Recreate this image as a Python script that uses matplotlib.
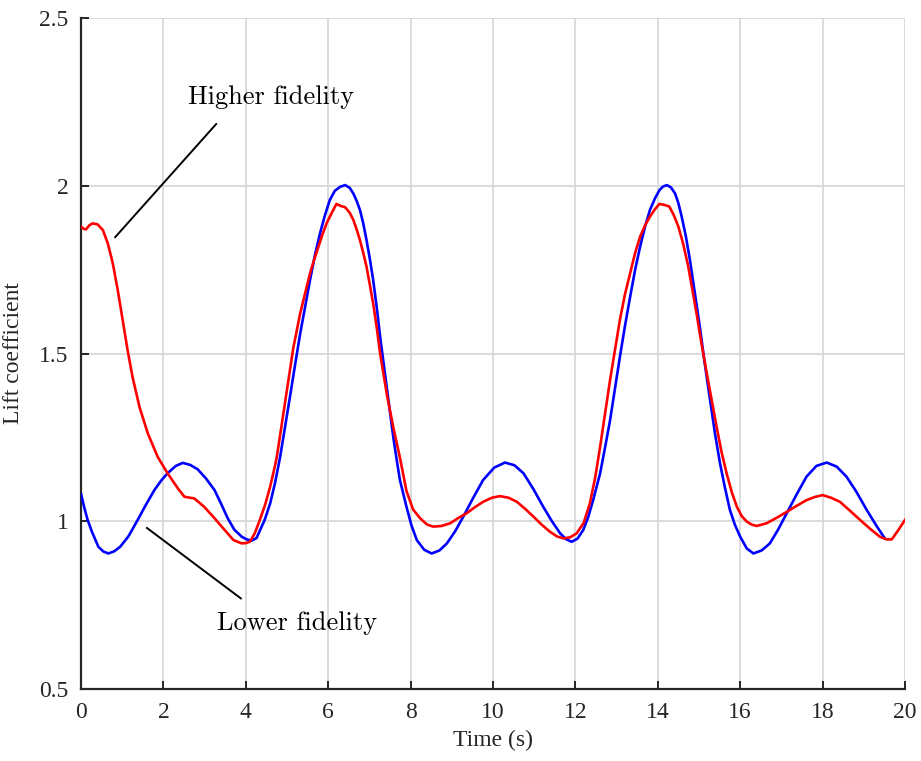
import matplotlib
matplotlib.use('Agg')
import matplotlib.pyplot as plt

# lower fidelity model (blue)
t_low = [0.0, 0.08, 0.16, 0.26, 0.42, 0.54, 0.66, 0.80, 0.95, 1.15, 1.375, 1.56, 1.78, 1.95,
         2.10, 2.30, 2.47, 2.65, 2.83, 3.03, 3.24, 3.40, 3.56, 3.72, 3.90, 4.02, 4.14, 4.26,
         4.34, 4.46, 4.59, 4.71, 4.83, 4.95, 5.07, 5.20, 5.32, 5.44, 5.56, 5.68, 5.80, 5.92,
         6.04, 6.16, 6.29, 6.41, 6.52, 6.61, 6.69, 6.77, 6.85, 6.93, 7.01, 7.09, 7.18, 7.26,
         7.34, 7.42, 7.50, 7.58, 7.66, 7.74, 7.90, 8.02, 8.15, 8.33, 8.51, 8.70, 8.88, 9.08,
         9.28, 9.52, 9.76, 10.03, 10.29, 10.52, 10.74, 10.98, 11.22, 11.43, 11.63, 11.78,
         11.91, 12.05, 12.19, 12.31, 12.43, 12.60, 12.72, 12.84, 12.96, 13.08, 13.20, 13.33,
         13.45, 13.57, 13.69, 13.81, 13.93, 14.04, 14.13, 14.22, 14.32, 14.42, 14.50, 14.58,
         14.68, 14.78, 14.90, 15.02, 15.14, 15.27, 15.39, 15.51, 15.63, 15.75, 15.87, 16.0,
         16.16, 16.32, 16.52, 16.72, 16.92, 17.13, 17.37, 17.61, 17.85, 18.1, 18.34, 18.58,
         18.82, 19.07, 19.30, 19.51]
cl_low = [1.082, 1.040, 1.004, 0.970, 0.924, 0.910, 0.904, 0.910, 0.924, 0.955, 1.004, 1.046,
          1.093, 1.122, 1.143, 1.165, 1.174, 1.168, 1.155, 1.128, 1.093, 1.052, 1.009, 0.975,
          0.954, 0.946, 0.942, 0.950, 0.972, 1.005, 1.053, 1.115, 1.190, 1.280, 1.370, 1.470,
          1.560, 1.640, 1.720, 1.795, 1.858, 1.912, 1.958, 1.985, 1.997, 2.002, 1.994, 1.977,
          1.955, 1.928, 1.888, 1.838, 1.782, 1.720, 1.635, 1.550, 1.475, 1.400, 1.325, 1.250,
          1.185, 1.123, 1.043, 0.988, 0.944, 0.915, 0.904, 0.913, 0.934, 0.970, 1.014, 1.070,
          1.123, 1.160, 1.175, 1.167, 1.143, 1.096, 1.043, 1.000, 0.964, 0.946, 0.939, 0.948,
          0.974, 1.012, 1.063, 1.143, 1.220, 1.300, 1.395, 1.490, 1.580, 1.670, 1.750, 1.818,
          1.878, 1.928, 1.962, 1.987, 1.998, 2.002, 1.995, 1.977, 1.948, 1.908, 1.850, 1.779,
          1.680, 1.580, 1.470, 1.360, 1.260, 1.173, 1.100, 1.034, 0.990, 0.954, 0.919, 0.904,
          0.913, 0.934, 0.975, 1.024, 1.080, 1.133, 1.165, 1.175, 1.163, 1.133, 1.088, 1.034,
          0.988, 0.949]

# higher fidelity model (red)
t_high = [0.0, 0.06, 0.12, 0.20, 0.28, 0.40, 0.53, 0.65, 0.77, 0.89, 1.01, 1.13, 1.25, 1.42,
          1.62, 1.86, 2.10, 2.35, 2.51, 2.75, 2.99, 3.24, 3.45, 3.70, 3.90, 4.00, 4.10, 4.22,
          4.34, 4.47, 4.59, 4.67, 4.75, 4.83, 4.91, 4.99, 5.07, 5.15, 5.24, 5.32, 5.40, 5.48,
          5.56, 5.66, 5.76, 5.86, 5.96, 6.08, 6.20, 6.30, 6.41, 6.52, 6.61, 6.69, 6.77, 6.85,
          6.93, 7.01, 7.09, 7.18, 7.26, 7.34, 7.42, 7.50, 7.58, 7.66, 7.74, 7.90, 8.06, 8.23,
          8.40, 8.55, 8.75, 8.96, 9.16, 9.36, 9.56, 9.76, 9.97, 10.17, 10.38, 10.58, 10.78,
          10.98, 11.18, 11.38, 11.55, 11.71, 11.87, 12.03, 12.20, 12.35, 12.48, 12.60, 12.72,
          12.84, 12.96, 13.08, 13.20, 13.33, 13.45, 13.57, 13.69, 13.81, 13.93, 14.04, 14.16,
          14.28, 14.39, 14.50, 14.62, 14.74, 14.84, 14.94, 15.06, 15.19, 15.31, 15.43, 15.55,
          15.67, 15.80, 15.92, 16.04, 16.16, 16.28, 16.40, 16.64, 16.88, 17.13, 17.37, 17.61,
          17.80, 18.0, 18.21, 18.42, 18.66, 18.91, 19.15, 19.39, 19.55, 19.68, 19.84, 20.0]
cl_high = [1.878, 1.872, 1.870, 1.882, 1.888, 1.885, 1.868, 1.828, 1.769, 1.690, 1.600, 1.510,
           1.430, 1.340, 1.262, 1.192, 1.143, 1.098, 1.073, 1.068, 1.043, 1.009, 0.979, 0.944,
           0.934, 0.935, 0.939, 0.965, 1.004, 1.050, 1.103, 1.145, 1.190, 1.255, 1.320, 1.385,
           1.450, 1.515, 1.570, 1.620, 1.660, 1.700, 1.740, 1.780, 1.818, 1.855, 1.888, 1.918,
           1.946, 1.940, 1.936, 1.920, 1.898, 1.870, 1.838, 1.800, 1.759, 1.705, 1.650, 1.575,
           1.500, 1.440, 1.380, 1.330, 1.280, 1.235, 1.190, 1.090, 1.035, 1.009, 0.990, 0.984,
           0.986, 0.994, 1.010, 1.024, 1.042, 1.058, 1.070, 1.075, 1.070, 1.058, 1.037, 1.014,
           0.990, 0.969, 0.955, 0.949, 0.952, 0.964, 0.995, 1.053, 1.130, 1.222, 1.320, 1.420,
           1.510, 1.600, 1.675, 1.740, 1.800, 1.848, 1.882, 1.908, 1.930, 1.946, 1.943, 1.938,
           1.912, 1.878, 1.825, 1.759, 1.690, 1.620, 1.530, 1.440, 1.360, 1.280, 1.205, 1.143,
           1.085, 1.043, 1.015, 0.999, 0.990, 0.986, 0.994, 1.010, 1.028, 1.046, 1.063, 1.072,
           1.078, 1.070, 1.058, 1.032, 1.004, 0.978, 0.954, 0.946, 0.946, 0.974, 1.004]

xticks = [0, 2, 4, 6, 8, 10, 12, 14, 16, 18, 20]
yticks = [0.5, 1, 1.5, 2, 2.5]
yticklabels = ['0.5', '1', '1.5', '2', '2.5']

plt.rcParams['font.family'] = ['Liberation Serif', 'DejaVu Serif']

fig = plt.figure(figsize=(9.21, 7.61), dpi=100)
ax = fig.add_axes([0.088, 0.0946, 0.8946, 0.8817])

ax.plot(t_low, cl_low, color='#0000ff', lw=1.9, zorder=3)
ax.plot(t_high, cl_high, color='#ff0000', lw=1.9, zorder=4)

ax.set_xlim(0, 20)
ax.set_ylim(0.5, 2.5)
ax.set_xticks(xticks)
ax.set_yticks(yticks)
ax.set_yticklabels(yticklabels)
ax.grid(True, color='#d6d6d6', lw=1.2)
ax.set_axisbelow(True)

for s in ['top', 'right']:
    ax.spines[s].set_visible(False)
for s in ['left', 'bottom']:
    ax.spines[s].set_color('#262626')
    ax.spines[s].set_linewidth(1.6)
ax.tick_params(direction='in', length=6, width=1.4, color='#262626', labelsize=17,
               labelcolor='#262626')
ax.tick_params(axis='x', pad=9)
ax.tick_params(axis='y', pad=9)

ax.set_xlabel('Time (s)', fontsize=17, color='#262626', labelpad=5)
ax.set_ylabel('Lift coefficient', fontsize=17, color='#262626', labelpad=11)

# pointer lines and labels
ax.plot([0.83, 3.28], [1.847, 2.184], color='k', lw=1.4)
ax.plot([1.60, 3.88], [0.980, 0.770], color='k', lw=1.4)
ax.text(4.61, 2.264, 'Higher fidelity', fontsize=19, family='cmr10', ha='center', va='center')
ax.text(5.24, 0.697, 'Lower fidelity', fontsize=19, family='cmr10', ha='center', va='center')

fig.savefig('out.png', dpi=100)
